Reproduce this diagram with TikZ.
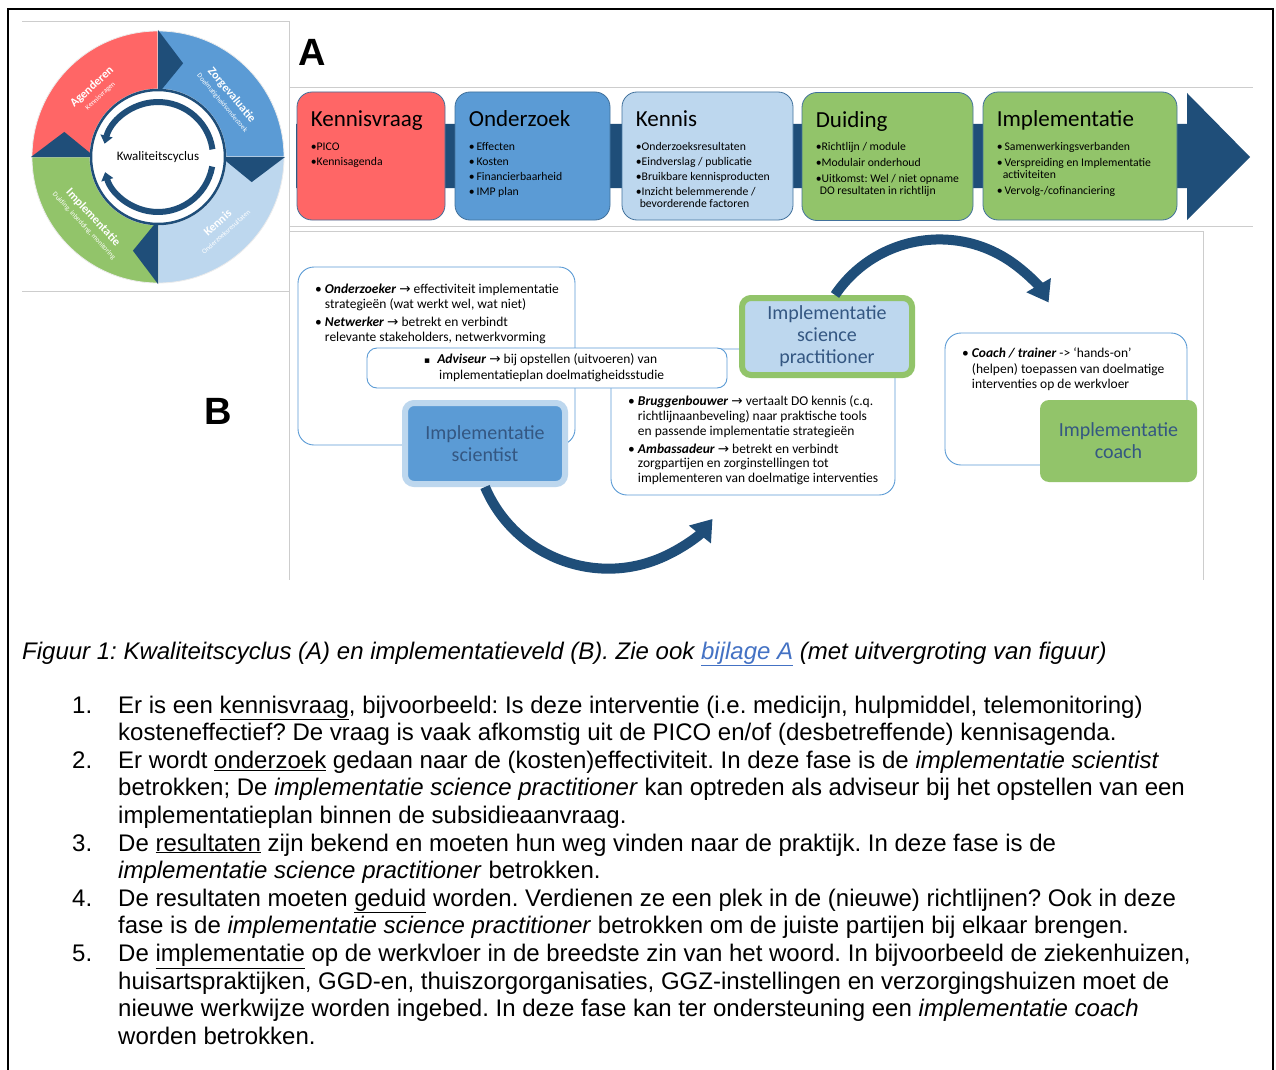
\documentclass[tikz,border=0pt]{standalone}
\usepackage{fontspec}
\setmainfont{Liberation Sans}
\newfontfamily\calfont{Carlito}
\newfontfamily\djvfont{DejaVu Sans}
\usetikzlibrary{arrows.meta,positioning}
\definecolor{kvred}{RGB}{255,102,102}
\definecolor{ozblue}{RGB}{91,155,213}
\definecolor{kelight}{RGB}{189,215,238}
\definecolor{dugreen}{RGB}{146,196,106}
\definecolor{navy}{RGB}{31,78,121}
\definecolor{edgeblue}{RGB}{65,113,156}
\definecolor{roletext}{RGB}{52,87,130}
\definecolor{panelgray}{RGB}{205,205,205}
\definecolor{linkblue}{RGB}{68,114,196}
\newcommand{\pijl}{{\djvfont\char"2192}}
\newcommand{\rol}[1]{\textbf{\textit{#1}}}
\newcommand{\inspr}{\phantom{\textbullet\ }}
\frenchspacing
\begin{document}
\begin{tikzpicture}[x=1pt,y=-1pt,
    phase/.style={draw=edgeblue, line width=0.8pt, rounded corners=15pt, minimum height=128pt},
    phasetitle/.style={anchor=base west, inner sep=0, font=\calfont\fontsize{23}{26}\selectfont},
    phaselist/.style={anchor=base west, inner sep=0, font=\calfont\fontsize{11.7}{14}\selectfont},
    seglabel/.style={align=center, inner sep=0, text=white, font=\calfont\fontsize{7}{11}\selectfont},
    rolebox/.style={draw=ozblue, line width=0.9pt, fill=white, rounded corners=16pt},
    roletxt/.style={anchor=base west, inner sep=0, font=\calfont\fontsize{13.5}{15}\selectfont},
    actor/.style={rounded corners=9pt, align=center, text=roletext, font=\calfont\fontsize{20}{22}\selectfont},
    bigarrow/.style={navy, line width=10pt, -{Triangle[width=27pt,length=20pt]}},
    panel/.style={panelgray, line width=0.8pt},
    listtxt/.style={anchor=base west, inner sep=0, font=\fontsize{24}{27.6}\selectfont}]

    \fill[white] (0,0) rectangle (1276,1070);
    \useasboundingbox (0,0) rectangle (1276,1070);
    \draw[line width=2pt] (8,1072) -- (8,9) -- (1273,9) -- (1273,1072);

    % panel lines
    \draw[panel] (22,21) -- (289,21) -- (289,580);
    \draw[panel] (22,291) -- (289,291);
    \draw[panel] (289,87) -- (1253,87);
    \draw[panel] (289,226) -- (1253,226);
    \draw[panel] (289,231) -- (1203,231) -- (1203,580);

    % kwaliteitscyclus
    \begin{scope}[shift={(158,157)}]
        \foreach \a/\c in {180/kvred, 270/ozblue, 0/kelight, 90/dugreen}
            \filldraw[fill=\c, draw=white!85!gray, line width=0.8pt] (\a:126) arc[start angle=\a, end angle=\a+90, radius=126]
                -- (\a+90:68) arc[start angle=\a+90, end angle=\a, radius=68] -- cycle;
        \foreach \a in {270, 0, 90, 180}
            \fill[navy] (\a:127) -- (\a:63) -- (\a+15:97) -- cycle;
        \draw[navy, line width=2.5pt, fill=white] (0,0) circle[radius=67];
        \draw[navy, line width=6pt, -{Triangle[width=12pt,length=8pt]}] (352:55) arc[start angle=352, end angle=194, radius=55];
        \draw[navy, line width=6pt, -{Triangle[width=12pt,length=8pt]}] (10:55) arc[start angle=10, end angle=164, radius=55];
        \node[font=\calfont\fontsize{13}{15}\selectfont] (cyclus) at (0,0) {Kwaliteitscyclus};
        \foreach \a/\r/\rot/\m/\s/\n in {226.7/91/43/Agenderen/Kennisvragen/ag,
                320/91/-50/Zorgevaluatie/Doelmatigheidsonderzoek/zo,
                47.8/94/42/Kennis/Onderzoeksresultaten/kn,
                137/94/-47/Implementatie/{Duiding, inbedding, monitoring}/ip}
            \node[seglabel, rotate=\rot] (seg-\n) at (\a:\r) {{\bfseries\fontsize{12}{12}\selectfont \m}\\\s};
    \end{scope}

    % A
    \node[anchor=base west, inner sep=0, font=\bfseries\fontsize{38}{40}\selectfont] (labA) at (298,66) {A};
    \fill[navy] (296,124) -- (1187,124) -- (1187,93) -- (1250,157) -- (1187,220) -- (1187,188) -- (296,188) -- cycle;

    \node[phase, fill=kvred, minimum width=148pt] (kv) at (371,156) {};
    \node[phase, fill=ozblue, minimum width=155pt] (oz) at (532.5,156) {};
    \node[phase, fill=kelight, minimum width=171pt] (ke) at (707.5,156) {};
    \node[phase, fill=dugreen, minimum width=171pt] (du) at (887.5,156.5) {};
    \node[phase, fill=dugreen, minimum width=194pt] (im) at (1080,156) {};

    \node[phasetitle] (kv-t) at ([shift={(14,35)}]kv.north west) {Kennisvraag};
    \node[phasetitle] (oz-t) at ([shift={(14,35)}]oz.north west) {Onderzoek};
    \node[phasetitle] (ke-t) at ([shift={(14,35)}]ke.north west) {Kennis};
    \node[phasetitle] (du-t) at ([shift={(14,35)}]du.north west) {Duiding};
    \node[phasetitle] (im-t) at ([shift={(14,35)}]im.north west) {Implementatie};

    \foreach \t/\y [count=\i] in {{\textbullet PICO}/59, {\textbullet Kennisagenda}/74}
        \node[phaselist] (kv-l\i) at ([shift={(14,\y)}]kv.north west) {\t};
    \foreach \t/\y [count=\i] in {{\textbullet\,Effecten}/59, {\textbullet\,Kosten}/74, {\textbullet\,Financierbaarheid}/89, {\textbullet\,IMP plan}/104}
        \node[phaselist] (oz-l\i) at ([shift={(14,\y)}]oz.north west) {\t};
    \foreach \t/\y [count=\i] in {{\textbullet Onderzoeksresultaten}/59, {\textbullet Eindverslag / publicatie}/74,
            {\textbullet Bruikbare kennisproducten}/89, {\textbullet Inzicht belemmerende /}/104, {\hspace*{4pt}bevorderende factoren}/116}
        \node[phaselist] (ke-l\i) at ([shift={(14,\y)}]ke.north west) {\t};
    \foreach \t/\y [count=\i] in {{\textbullet Richtlijn / module}/58, {\textbullet Modulair onderhoud}/74,
            {\textbullet Uitkomst: Wel / niet opname}/90, {\hspace*{4pt}DO resultaten in richtlijn}/102}
        \node[phaselist] (du-l\i) at ([shift={(14,\y)}]du.north west) {\t};
    \foreach \t/\y [count=\i] in {{\textbullet\,Samenwerkingsverbanden}/59, {\textbullet\,Verspreiding en Implementatie}/75,
            {\hspace*{6pt}activiteiten}/87, {\textbullet\,Vervolg-/cofinanciering}/103}
        \node[phaselist] (im-l\i) at ([shift={(14,\y)}]im.north west) {\t};

    % B
    \node[anchor=base west, inner sep=0, font=\bfseries\fontsize{38}{40}\selectfont] (labB) at (204,424) {B};

    \node[rolebox, minimum width=277pt, minimum height=178pt] (r1) at (436.5,356) {};
    \node[rolebox, minimum width=284pt, minimum height=146pt] (r3) at (753,422) {};
    \node[rolebox, minimum width=360pt, minimum height=40pt, rounded corners=10pt] (r2) at (547,368) {};
    \node[rolebox, minimum width=242pt, minimum height=132pt] (r4) at (1066,399) {};

    \foreach \t/\y [count=\i] in {{\textbullet\ \rol{Onderzoeker} \pijl{} effectiviteit implementatie}/293,
            {\inspr strategieën (wat werkt wel, wat niet)}/308,
            {\textbullet\ \rol{Netwerker} \pijl{} betrekt en verbindt}/326,
            {\inspr relevante stakeholders, netwerkvorming}/341}
        \node[roletxt] (r1-t\i) at (315,\y) {\t};
    \foreach \t/\y [count=\i] in {{{\djvfont\fontsize{9}{9}\selectfont\char"25AA}\hspace{7pt}\rol{Adviseur} \pijl{} bij opstellen (uitvoeren) van}/363,
            {\hspace*{15pt}implementatieplan doelmatigheidsstudie}/379}
        \node[roletxt] (r2-t\i) at (424,\y) {\t};
    \foreach \t/\y [count=\i] in {{\textbullet\ \rol{Bruggenbouwer} \pijl{} vertaalt DO kennis (c.q.}/405,
            {\inspr richtlijnaanbeveling) naar praktische tools}/420,
            {\inspr en passende implementatie strategieën}/435,
            {\textbullet\ \rol{Ambassadeur} \pijl{} betrekt en verbindt}/453,
            {\inspr zorgpartijen en zorginstellingen tot}/467,
            {\inspr implementeren van doelmatige interventies}/482}
        \node[roletxt] (r3-t\i) at (628,\y) {\t};
    \foreach \t/\y [count=\i] in {{\textbullet\ \rol{Coach / trainer} -> ‘hands-on’}/357,
            {\inspr (helpen) toepassen van doelmatige}/373,
            {\inspr interventies op de werkvloer}/388}
        \node[roletxt] (r4-t\i) at (962,\y) {\t};

    \node[actor, draw=kelight, line width=6pt, fill=ozblue, minimum width=160pt, minimum height=81pt] (sci) at (485,443.5) {Implementatie\\scientist};
    \node[actor, draw=dugreen, line width=6pt, fill=kelight, minimum width=170pt, minimum height=77pt] (prac) at (827,336.5) {Implementatie\\science\\practitioner};
    \node[actor, fill=dugreen, minimum width=157pt, minimum height=82pt] (coach) at (1118.5,441) {Implementatie\\coach};

    \draw[bigarrow] (sci.south) arc[start angle=157, end angle=39, radius=134];
    \draw[bigarrow] ([xshift=8pt]prac.north) arc[start angle=-146, end angle=-30, radius=126];

    % caption and list
    \node[listtxt] (caption) at (22,659) {\textit{Figuur 1: Kwaliteitscyclus (A) en implementatieveld (B). Zie ook \textcolor{linkblue}{\underline{bijlage A}} (met uitvergroting van figuur)}};

    \foreach \n/\y in {1/713, 2/768.2, 3/851, 4/906.2, 5/961.4}
        \node[listtxt] (num\n) at (72,\y) {\n.};
    \foreach \t [count=\i from 0] in {{Er is een \underline{kennisvraag}, bijvoorbeeld: Is deze interventie (i.e. medicijn, hulpmiddel, telemonitoring)},
            {kosteneffectief? De vraag is vaak afkomstig uit de PICO en/of (desbetreffende) kennisagenda.}}
        \node[listtxt] (item1-\i) at (118,{713+27.6*\i}) {\t};
    \foreach \t [count=\i from 0] in {{Er wordt \underline{onderzoek} gedaan naar de (kosten)effectiviteit. In deze fase is de \textit{implementatie scientist}},
            {betrokken; De \textit{implementatie science practitioner} kan optreden als adviseur bij het opstellen van een},
            {implementatieplan binnen de subsidieaanvraag.}}
        \node[listtxt] (item2-\i) at (118,{768.2+27.6*\i}) {\t};
    \foreach \t [count=\i from 0] in {{De \underline{resultaten} zijn bekend en moeten hun weg vinden naar de praktijk. In deze fase is de},
            {\textit{implementatie science practitioner} betrokken.}}
        \node[listtxt] (item3-\i) at (118,{851+27.6*\i}) {\t};
    \foreach \t [count=\i from 0] in {{De resultaten moeten \underline{geduid} worden. Verdienen ze een plek in de (nieuwe) richtlijnen? Ook in deze},
            {fase is de \textit{implementatie science practitioner} betrokken om de juiste partijen bij elkaar brengen.}}
        \node[listtxt] (item4-\i) at (118,{906.2+27.6*\i}) {\t};
    \foreach \t [count=\i from 0] in {{De \underline{implementatie} op de werkvloer in de breedste zin van het woord. In bijvoorbeeld de ziekenhuizen,},
            {huisartspraktijken, GGD-en, thuiszorgorganisaties, GGZ-instellingen en verzorgingshuizen moet de},
            {nieuwe werkwijze worden ingebed. In deze fase kan ter ondersteuning een \textit{implementatie coach}},
            {worden betrokken.}}
        \node[listtxt] (item5-\i) at (118,{961.4+27.6*\i}) {\t};
\end{tikzpicture}
\end{document}
